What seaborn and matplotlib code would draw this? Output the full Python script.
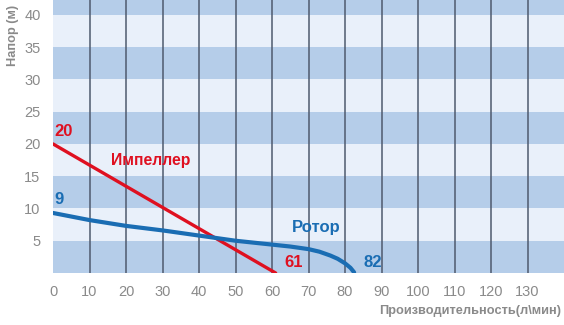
import matplotlib
matplotlib.use("Agg")
import matplotlib.pyplot as plt
import seaborn as sns
import pandas as pd

# data
impeller_x = [0, 61]
impeller_y = [20, 0]
rotor_x = [0, 10, 20, 30, 40, 50, 60, 65, 70, 73, 76, 78, 80, 81.5, 82.5]
rotor_y = [9.3, 8.2, 7.3, 6.6, 5.8, 5.0, 4.4, 4.1, 3.7, 3.3, 2.7, 2.2, 1.5, 0.8, 0.1]
x_ticks = [0, 10, 20, 30, 40, 50, 60, 70, 80, 90, 100, 110, 120, 130]
y_ticks = [5, 10, 15, 20, 25, 30, 35, 40]
x_label = "Производительность(л\\мин)"
y_label = "Напор (м)"
imp_name = "Импеллер"
rot_name = "Ротор"

sns.set_theme(style="white")
plt.rcParams['font.family'] = ['Liberation Sans', 'DejaVu Sans']

RED = "#df1020"
BLUE = "#1a6db3"
DARK = "#b5cde9"
LIGHT = "#e9f0fa"
GREY = "#8a8a8a"

fig = plt.figure(figsize=(5.64, 3.25), dpi=100)
ax = fig.add_axes([0.094, 0.16, 0.906, 0.84])
ymax = 42.3
xmax = 140
ax.set_xlim(0, xmax)
ax.set_ylim(0, ymax)

# alternating bands
edges = [0] + y_ticks + [ymax]
for i in range(len(edges) - 1):
    ax.axhspan(edges[i], edges[i + 1], color=DARK if i % 2 == 0 else LIGHT, lw=0, zorder=0)
for xv in x_ticks[1:]:
    ax.axvline(xv, color="#4e5a6e", lw=1.1, zorder=1)

df_imp = pd.DataFrame({"x": impeller_x, "y": impeller_y})
df_rot = pd.DataFrame({"x": rotor_x, "y": rotor_y})
sns.lineplot(data=df_imp, x="x", y="y", ax=ax, color=RED, lw=2.4, zorder=3)
sns.lineplot(data=df_rot, x="x", y="y", ax=ax, color=BLUE, lw=3.0, zorder=4, sort=False)

# labels
bold = dict(fontsize=12, fontweight="bold")
ax.text(0.5, 20.8, str(impeller_y[0]), color=RED, ha="left", va="bottom", **bold)
ax.text(impeller_x[-1] + 2.5, 0.4, str(impeller_x[-1]), color=RED, ha="left", va="bottom", **bold)
ax.text(16, 17.5, imp_name, color=RED, ha="left", va="center", fontsize=11.3, fontweight="bold")
ax.text(0.5, 10.3, "9", color=BLUE, ha="left", va="bottom", **bold)
ax.text(rotor_x[-1] + 2.5, 0.4, "82", color=BLUE, ha="left", va="bottom", **bold)
ax.text(65.5, 7.0, rot_name, color=BLUE, ha="left", va="center", **bold)

ax.set_xticks(x_ticks)
ax.set_yticks(y_ticks)
ax.tick_params(axis="both", length=0, labelsize=10.5, labelcolor=GREY, pad=9)
ax.set_xlabel("")
ax.set_ylabel("")
for s in ax.spines.values():
    s.set_visible(False)

fig.text(0.995, 0.025, x_label, ha="right", va="bottom", color=GREY, fontsize=9.2, fontweight="bold")
fig.text(0.012, 0.985, y_label, ha="left", va="top", rotation=90, color=GREY, fontsize=9.2, fontweight="bold")

fig.savefig("out.png", dpi=100)
